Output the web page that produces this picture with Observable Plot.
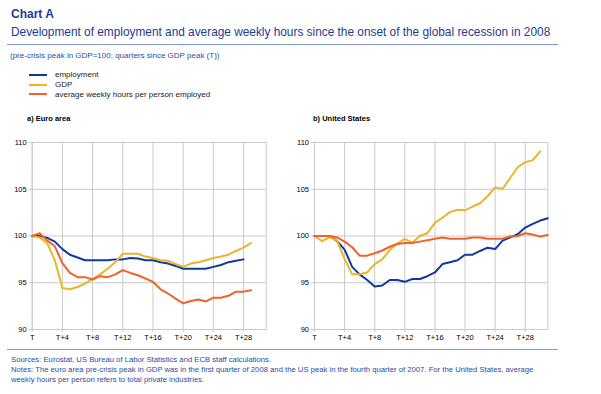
<!DOCTYPE html>
<html>
<head>
<meta charset="utf-8">
<script src="https://cdn.jsdelivr.net/npm/d3@7"></script>
<script src="https://cdn.jsdelivr.net/npm/@observablehq/plot@0.6"></script>
<style>
  body { margin: 0; background: #fff; }
  #page { position: relative; width: 601px; height: 394px; overflow: hidden; font-family: "Liberation Sans", Arial, sans-serif; }
  .t { position: absolute; white-space: nowrap; line-height: 1; }
  .rule { position: absolute; height: 1px; background: #8298cf; }
  .legline { position: absolute; height: 2px; width: 18px; }
  .panel { position: absolute; }
</style>
</head>
<body>
<div id="page">
  <div class="t" style="left:11px; top:7.6px; font-size:12px; font-weight:bold; color:#1c3b92;">Chart A</div>
  <div class="t" style="left:11px; top:27px; font-size:11.85px; color:#1c3b92;">Development of employment and average weekly hours since the onset of the global recession in 2008</div>
  <div class="rule" style="left:7px; top:44px; width:551px;"></div>
  <div class="t" style="left:10px; top:52.3px; font-size:8px; color:#2a4c9e;">(pre-crisis peak in GDP=100; quarters since GDP peak (T))</div>
  <div id="legend"></div>
  <div class="t" style="left:27px; top:114.6px; font-size:7.5px; font-weight:bold; color:#000;">a) Euro area</div>
  <div class="t" style="left:313px; top:114.6px; font-size:7.5px; font-weight:bold; color:#000;">b) United States</div>
  <div id="p1" class="panel" style="left:0px; top:130px;"></div>
  <div id="p2" class="panel" style="left:290px; top:130px;"></div>
  <div class="rule" style="left:7px; top:349px; width:551px;"></div>
  <div class="t" style="left:11px; top:355.3px; font-size:7.7px; line-height:10px; color:#2a4c9e;">Sources: Eurostat, US Bureau of Labor Statistics and ECB staff calculations.<br>Notes: The euro area pre-crisis peak in GDP was in the first quarter of 2008 and the US peak in the fourth quarter of 2007. For the United States, average<br>weekly hours per person refers to total private industries.</div>
</div>
<script>
// ---- data ----
const seriesNames = ["employment", "GDP", "average weekly hours per person employed"];
const seriesColors = ["#0f3a9c", "#e8b52b", "#f1622a"];
const xTicks = [0, 4, 8, 12, 16, 20, 24, 28];
const yTicks = [90, 95, 100, 105, 110];

// Euro area (quarters T..)
const euEmployment = [100, 100.0, 99.8, 99.4, 98.6, 98.0, 97.7, 97.4, 97.4, 97.4, 97.4, 97.5, 97.5, 97.65, 97.6, 97.4, 97.4, 97.2, 97.05, 96.8, 96.5, 96.5, 96.5, 96.5, 96.7, 96.9, 97.2, 97.35, 97.5];
const euGDP = [100, 99.85, 99.2, 97.4, 94.45, 94.3, 94.55, 94.9, 95.4, 95.9, 96.5, 97.2, 98.1, 98.1, 98.1, 97.8, 97.65, 97.4, 97.35, 97.0, 96.7, 97.05, 97.2, 97.4, 97.65, 97.8, 98.0, 98.4, 98.75, 99.25];
const euHours = [100, 100.3, 99.5, 98.9, 97.1, 96.05, 95.6, 95.6, 95.35, 95.7, 95.6, 95.9, 96.35, 96.05, 95.8, 95.45, 95.1, 94.3, 93.85, 93.3, 92.8, 93.05, 93.2, 93.0, 93.4, 93.4, 93.6, 94.05, 94.05, 94.2];

// United States
const usEmployment = [100, 100, 100, 99.45, 98.55, 96.7, 95.9, 95.3, 94.6, 94.7, 95.3, 95.3, 95.1, 95.4, 95.4, 95.7, 96.1, 97.0, 97.2, 97.4, 98.0, 98.0, 98.4, 98.75, 98.6, 99.5, 99.85, 100.2, 100.9, 101.3, 101.65, 101.9];
const usGDP = [100, 99.45, 99.85, 99.5, 97.55, 95.9, 95.9, 96.1, 97.0, 97.5, 98.5, 99.2, 99.7, 99.3, 100.0, 100.3, 101.4, 101.95, 102.55, 102.8, 102.75, 103.15, 103.5, 104.25, 105.2, 105.05, 106.2, 107.35, 107.9, 108.1, 109.05];
const usHours = [100, 100, 100, 99.85, 99.4, 98.8, 97.9, 97.9, 98.15, 98.45, 98.85, 99.15, 99.25, 99.25, 99.4, 99.55, 99.7, 99.85, 99.7, 99.7, 99.7, 99.85, 99.85, 99.7, 99.7, 99.7, 99.95, 100, 100.3, 100.15, 99.95, 100.1];

function toRows(arrays) {
  const rows = [];
  arrays.forEach((arr, i) => arr.forEach((v, q) => rows.push({q, v, s: seriesNames[i]})));
  return rows;
}

// ---- legend ----
const legend = document.getElementById("legend");
const legTops = [75, 84.7, 94.3];
seriesNames.forEach((name, i) => {
  const ln = document.createElement("div");
  ln.className = "legline";
  ln.style.left = "29px";
  ln.style.top = (legTops[i] - 1) + "px";
  ln.style.background = seriesColors[i];
  legend.appendChild(ln);
  const tx = document.createElement("div");
  tx.className = "t";
  tx.style.left = "55px";
  tx.style.top = (legTops[i] + 3 - 0.8465 * 8) + "px";
  tx.style.fontSize = "8px";
  tx.style.color = "#222";
  tx.textContent = name;
  legend.appendChild(tx);
});

// ---- panels ----
function panel(rows, width, mLeft, mRight) {
  return Plot.plot({
    width, height: 220,
    marginLeft: mLeft, marginRight: mRight, marginTop: 12, marginBottom: 21,
    style: {fontFamily: "Liberation Sans, Arial, sans-serif", fontSize: "7.5px", background: "transparent", color: "#000"},
    x: {domain: [0, 31], ticks: xTicks, tickFormat: d => d === 0 ? "T" : "T+" + d},
    y: {domain: [90, 110], ticks: yTicks},
    color: {domain: seriesNames, range: seriesColors},
    marks: [
      Plot.gridX(xTicks, {stroke: "#c9c9c9", strokeOpacity: 1}),
      Plot.gridY(yTicks, {stroke: "#c9c9c9", strokeOpacity: 1}),
      Plot.frame({stroke: "#c9c9c9"}),
      Plot.axisX({ticks: xTicks, tickFormat: d => d === 0 ? "T" : "T+" + d, tickSize: 3, tickPadding: 2, stroke: "#c9c9c9", fill: "#000", label: null}),
      Plot.axisY({ticks: yTicks, tickSize: 3, tickPadding: 2.5, stroke: "#c9c9c9", fill: "#000", label: null}),
      Plot.line(rows, {x: "q", y: "v", z: "s", stroke: "s", strokeWidth: 2, strokeLinejoin: "round"})
    ]
  });
}

document.getElementById("p1").appendChild(panel(toRows([euEmployment, euGDP, euHours]), 280, 31.7, 14.3));
document.getElementById("p2").appendChild(panel(toRows([usEmployment, usGDP, usHours]), 290, 24, 32.7));
</script>
</body>
</html>
